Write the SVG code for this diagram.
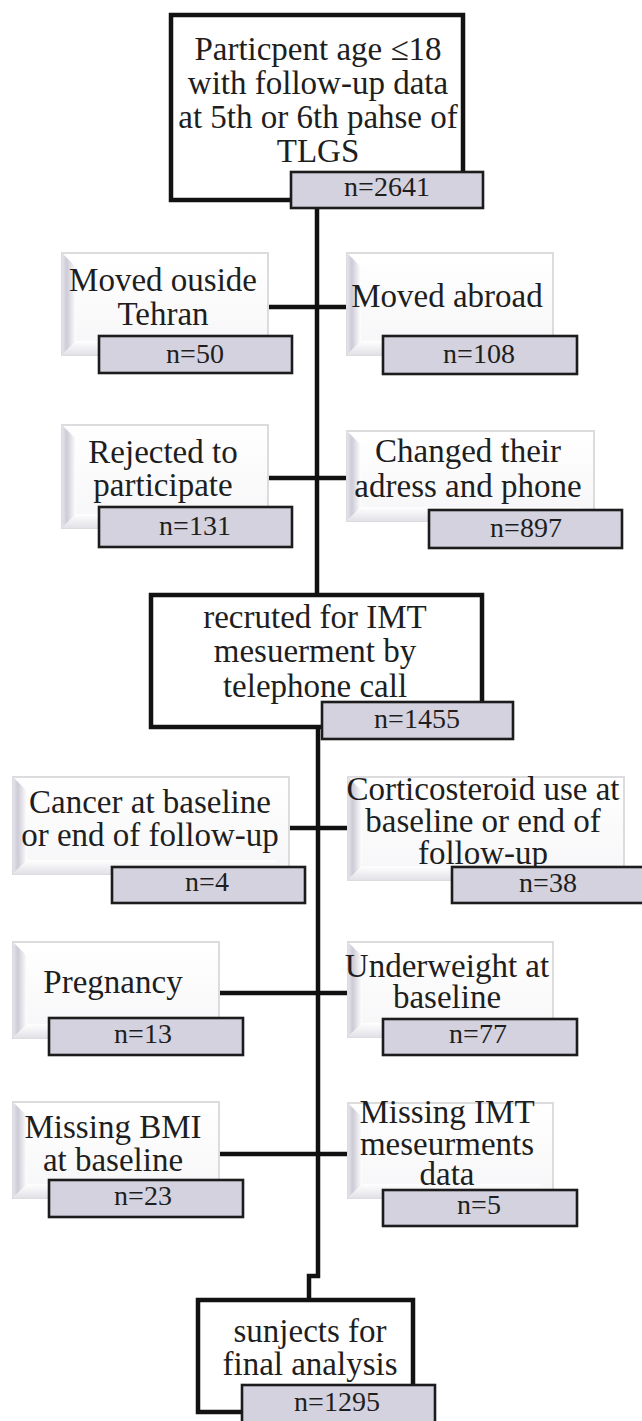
<svg xmlns="http://www.w3.org/2000/svg" width="642" height="1421" viewBox="0 0 642 1421">
<defs>
<linearGradient id="bevL" x1="0" y1="0" x2="1" y2="0">
<stop offset="0" stop-color="#e4e3ea"/>
<stop offset="0.35" stop-color="#cdcbd6"/>
<stop offset="1" stop-color="#ffffff"/>
</linearGradient>
<linearGradient id="bevB" x1="0" y1="0" x2="0" y2="1">
<stop offset="0" stop-color="#ffffff"/>
<stop offset="1" stop-color="#e2e1e7"/>
</linearGradient>
<linearGradient id="sideFill" x1="0" y1="0" x2="0" y2="1">
<stop offset="0" stop-color="#ffffff"/>
<stop offset="1" stop-color="#f6f6f8"/>
</linearGradient>
</defs>
<style>
text{font-family:"Liberation Serif","Times New Roman",serif;fill:#1e1e1e;text-anchor:middle}
.t{font-size:33px}
.n{font-size:28px}
.main{fill:#ffffff;stroke:#121212;stroke-width:4.5}
.nb{fill:#d3d2de;stroke:#1c1c1c;stroke-width:2.6}
.side{fill:url(#sideFill);stroke:#dcdcdf;stroke-width:2}
.bl{fill:url(#bevL)}
.bb{fill:url(#bevB)}
.c{fill:none;stroke:#111111;stroke-width:4.5}
</style>
<rect width="642" height="1421" fill="#ffffff"/>

<g id="connectors">
<path class="c" d="M317,206 V597"/>
<path class="c" d="M269,307 H346"/>
<path class="c" d="M269,478 H346"/>
<path class="c" d="M318,727 V1276 H309 V1300"/>
<path class="c" d="M289,828 H347"/>
<path class="c" d="M219,993 H347"/>
<path class="c" d="M219,1154 H347"/>
</g>

<g id="node-start">
<rect class="main" x="171" y="15" width="292" height="185"/>
<text class="t" x="318" y="60">Particpent age ≤18</text>
<text class="t" x="318" y="94">with follow-up data</text>
<text class="t" x="318" y="128">at 5th or 6th pahse of</text>
<text class="t" x="318" y="162">TLGS</text>
<rect class="nb" x="291" y="172" width="192" height="36"/>
<text class="n" x="387" y="196">n=2641</text>
</g>

<g id="node-moved-outside">
<rect class="side" x="62" y="253" width="206" height="102"/>
<polygon class="bl" points="62,253 76,267 76,341 62,355"/>
<polygon class="bb" points="62,355 76,341 254,341 268,355"/>
<text class="t" x="163" y="291">Moved ouside</text>
<text class="t" x="163" y="325">Tehran</text>
<rect class="nb" x="99" y="336" width="193" height="37"/>
<text class="n" x="195" y="363">n=50</text>
</g>

<g id="node-moved-abroad">
<rect class="side" x="347" y="253" width="206" height="102"/>
<polygon class="bl" points="347,253 361,267 361,341 347,355"/>
<polygon class="bb" points="347,355 361,341 539,341 553,355"/>
<text class="t" x="447" y="307">Moved abroad</text>
<rect class="nb" x="383" y="336" width="194" height="38"/>
<text class="n" x="479" y="363">n=108</text>
</g>

<g id="node-rejected">
<rect class="side" x="62" y="425" width="206" height="103"/>
<polygon class="bl" points="62,425 76,439 76,514 62,528"/>
<polygon class="bb" points="62,528 76,514 254,514 268,528"/>
<text class="t" x="163" y="463">Rejected to</text>
<text class="t" x="163" y="496">participate</text>
<rect class="nb" x="99" y="507" width="193" height="40"/>
<text class="n" x="195" y="535">n=131</text>
</g>

<g id="node-changed">
<rect class="side" x="347" y="431" width="247" height="90"/>
<polygon class="bl" points="347,431 361,445 361,507 347,521"/>
<polygon class="bb" points="347,521 361,507 580,507 594,521"/>
<text class="t" x="468" y="462">Changed their</text>
<text class="t" x="468" y="497">adress and phone</text>
<rect class="nb" x="429" y="510" width="193" height="38"/>
<text class="n" x="526" y="537">n=897</text>
</g>

<g id="node-recruited">
<rect class="main" x="151" y="595" width="331" height="132"/>
<text class="t" x="315" y="628">recruted for IMT</text>
<text class="t" x="315" y="662">mesuerment by</text>
<text class="t" x="315" y="697">telephone call</text>
<rect class="nb" x="322" y="702" width="191" height="37"/>
<text class="n" x="417" y="728">n=1455</text>
</g>

<g id="node-cancer">
<rect class="side" x="13" y="777" width="276" height="97"/>
<polygon class="bl" points="13,777 27,791 27,860 13,874"/>
<polygon class="bb" points="13,874 27,860 275,860 289,874"/>
<text class="t" x="150" y="813">Cancer at baseline</text>
<text class="t" x="150" y="846">or end of follow-up</text>
<rect class="nb" x="112" y="867" width="193" height="36"/>
<text class="n" x="207" y="891">n=4</text>
</g>

<g id="node-corticosteroid">
<rect class="side" x="348" y="777" width="276" height="103"/>
<polygon class="bl" points="348,777 362,791 362,866 348,880"/>
<polygon class="bb" points="348,880 362,866 610,866 624,880"/>
<text class="t" x="483" y="800">Corticosteroid use at</text>
<text class="t" x="483" y="832">baseline or end of</text>
<text class="t" x="483" y="864">follow-up</text>
<rect class="nb" x="452" y="867" width="193" height="36"/>
<text class="n" x="548" y="892">n=38</text>
</g>

<g id="node-pregnancy">
<rect class="side" x="13" y="942" width="206" height="96"/>
<polygon class="bl" points="13,942 27,956 27,1024 13,1038"/>
<polygon class="bb" points="13,1038 27,1024 205,1024 219,1038"/>
<text class="t" x="113" y="993">Pregnancy</text>
<rect class="nb" x="49" y="1018" width="194" height="37"/>
<text class="n" x="143" y="1043">n=13</text>
</g>

<g id="node-underweight">
<rect class="side" x="348" y="942" width="205" height="95"/>
<polygon class="bl" points="348,942 362,956 362,1023 348,1037"/>
<polygon class="bb" points="348,1037 362,1023 539,1023 553,1037"/>
<text class="t" x="447" y="977">Underweight at</text>
<text class="t" x="447" y="1008">baseline</text>
<rect class="nb" x="383" y="1019" width="194" height="36"/>
<text class="n" x="478" y="1043">n=77</text>
</g>

<g id="node-missing-bmi">
<rect class="side" x="13" y="1102" width="206" height="96"/>
<polygon class="bl" points="13,1102 27,1116 27,1184 13,1198"/>
<polygon class="bb" points="13,1198 27,1184 205,1184 219,1198"/>
<text class="t" x="113" y="1138">Missing BMI</text>
<text class="t" x="113" y="1171">at baseline</text>
<rect class="nb" x="49" y="1180" width="194" height="37"/>
<text class="n" x="143" y="1205">n=23</text>
</g>

<g id="node-missing-imt">
<rect class="side" x="348" y="1103" width="205" height="95"/>
<polygon class="bl" points="348,1103 362,1117 362,1184 348,1198"/>
<polygon class="bb" points="348,1198 362,1184 539,1184 553,1198"/>
<text class="t" x="447" y="1123">Missing IMT</text>
<text class="t" x="447" y="1155">meseurments</text>
<text class="t" x="447" y="1185">data</text>
<rect class="nb" x="383" y="1190" width="194" height="36"/>
<text class="n" x="479" y="1214">n=5</text>
</g>

<g id="node-final">
<rect class="main" x="198" y="1300" width="215" height="112"/>
<text class="t" x="310" y="1342">sunjects for</text>
<text class="t" x="310" y="1375">final analysis</text>
<rect class="nb" x="242" y="1385" width="193" height="40"/>
<text class="n" x="337" y="1411">n=1295</text>
</g>
</svg>
